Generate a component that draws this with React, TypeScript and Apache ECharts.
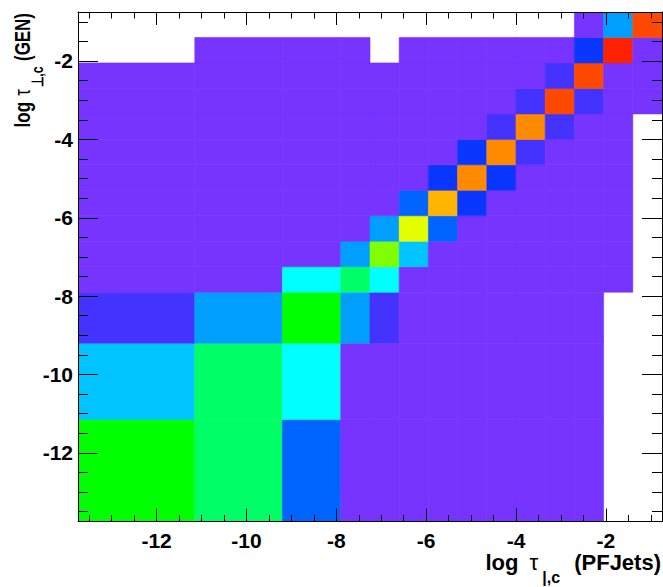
import React, { useEffect, useRef } from "react";
import * as echarts from "echarts";

// Bin edges (same for both axes), log10 tau
const xEdges = [-13.75, -11.15, -9.2, -7.9, -7.25, -6.6, -5.95, -5.3, -4.65, -4.0, -3.35, -2.7, -2.05, -1.4, -0.75];
const yEdges = [-13.75, -11.15, -9.2, -7.9, -7.25, -6.6, -5.95, -5.3, -4.65, -4.0, -3.35, -2.7, -2.05, -1.4, -0.75];

// Colour levels (ROOT rainbow palette, low -> high)
const palette = [
  "#7733ff", "#4433ff", "#0a37ff", "#0064ff", "#009fff", "#00c4ff", "#00ffff",
  "#00ff66", "#00ff00", "#80ff00", "#e6ff00", "#ffb400", "#ff8a00", "#ff4800", "#ff2200",
];

// Cell levels per y bin (bottom -> top), one entry per x bin; -1 = empty
const row0 = [8, 7, 3, 0, 0, 0, 0, 0, 0, 0, 0, 0, -1, -1];
const row1 = [5, 7, 6, 0, 0, 0, 0, 0, 0, 0, 0, 0, -1, -1];
const row2 = [1, 4, 8, 4, 1, 0, 0, 0, 0, 0, 0, 0, -1, -1];
const row3 = [0, 0, 6, 7, 6, 0, 0, 0, 0, 0, 0, 0, 0, -1];
const row4 = [0, 0, 0, 4, 9, 5, 0, 0, 0, 0, 0, 0, 0, -1];
const row5 = [0, 0, 0, 0, 4, 10, 3, 0, 0, 0, 0, 0, 0, -1];
const row6 = [0, 0, 0, 0, 0, 3, 11, 2, 0, 0, 0, 0, 0, -1];
const row7 = [0, 0, 0, 0, 0, 0, 2, 12, 2, 0, 0, 0, 0, -1];
const row8 = [0, 0, 0, 0, 0, 0, 0, 2, 12, 1, 0, 0, 0, -1];
const row9 = [0, 0, 0, 0, 0, 0, 0, 0, 1, 12, 1, 0, 0, -1];
const row10 = [0, 0, 0, 0, 0, 0, 0, 0, 0, 1, 13, 1, 0, 0];
const row11 = [0, 0, 0, 0, 0, 0, 0, 0, 0, 0, 1, 13, 0, 0];
const row12 = [-1, 0, 0, 0, -1, 0, 0, 0, 0, 0, 0, 2, 14, 0];
const row13 = [-1, -1, -1, -1, -1, -1, -1, -1, -1, -1, -1, 0, 4, 13];
const levelRows = [row0, row1, row2, row3, row4, row5, row6, row7, row8, row9, row10, row11, row12, row13];

const xTitle = "{m|log }{t|τ}{s||,c}{m| (PFJets)}";
const yTitle = "{m|log }{t|τ}{s|⊥,c}{m| (GEN)}";

const FONT = '"Liberation Sans", Arial, Helvetica, sans-serif';

export default function App() {
  const ref = useRef<HTMLDivElement>(null);
  useEffect(() => {
    if (!ref.current) return;
    const chart = echarts.init(ref.current, undefined, { renderer: "svg" });

    const data: number[][] = [];
    levelRows.forEach((row, yi) => {
      row.forEach((lv, xi) => {
        if (lv >= 0) data.push([xEdges[xi], xEdges[xi + 1], yEdges[yi], yEdges[yi + 1], lv]);
      });
    });

    const mkAxis = (pos: string, isX: boolean, showLabel: boolean) => ({
      type: "value",
      position: pos,
      min: -13.75,
      max: -0.75,
      minInterval: 2,
      maxInterval: 2,
      z: 10,
      axisLine: { show: true, onZero: false, lineStyle: { color: "#000", width: 1 } },
      axisTick: { show: true, inside: true, length: isX ? 13 : 20, lineStyle: { color: "#000", width: 1 } },
      minorTick: { show: true, splitNumber: 4, length: isX ? 6.5 : 10, lineStyle: { color: "#000", width: 1 } },
      splitLine: { show: false },
      minorSplitLine: { show: false },
      axisLabel: {
        show: showLabel,
        showMinLabel: false,
        showMaxLabel: false,
        color: "#000",
        fontFamily: FONT,
        fontWeight: "bold",
        fontSize: 21,
        margin: isX ? 8 : 5,
        padding: isX ? 0 : [6, 0, 0, 0],
      },
    });

    const richX = {
      m: { fontFamily: FONT, fontWeight: "bold", fontSize: 22, lineHeight: 26, verticalAlign: "top", fill: "#000" },
      t: { fontFamily: FONT, fontWeight: "normal", fontSize: 22, lineHeight: 26, verticalAlign: "top", fill: "#000", padding: [0, 3, 0, 5] },
      s: { fontFamily: FONT, fontWeight: "bold", fontSize: 16, lineHeight: 16, padding: [18, 8, 0, 1], verticalAlign: "top", fill: "#000" },
    };
    const richY = {
      m: { fontFamily: FONT, fontWeight: "bold", fontSize: 22, lineHeight: 26, verticalAlign: "top", fill: "#000" },
      t: { fontFamily: FONT, fontWeight: "normal", fontSize: 22, lineHeight: 26, verticalAlign: "top", fill: "#000", padding: [0, 1, 0, 2] },
      s: { fontFamily: FONT, fontWeight: "bold", fontSize: 16, lineHeight: 16, padding: [18, 1, 0, 1], verticalAlign: "top", fill: "#000" },
    };

    chart.setOption({
      animation: false,
      backgroundColor: "#fff",
      grid: { left: 78, top: 12, width: 584, height: 509.5, containLabel: false, show: false },
      xAxis: [mkAxis("bottom", true, true), mkAxis("top", true, false)],
      yAxis: [mkAxis("left", false, true), mkAxis("right", false, false)],
      series: [
        {
          type: "custom",
          xAxisIndex: 0,
          yAxisIndex: 0,
          clip: true,
          encode: { x: [0, 1], y: [2, 3] },
          data,
          renderItem: (params: any, api: any) => {
            const p0 = api.coord([api.value(0), api.value(3)]);
            const p1 = api.coord([api.value(1), api.value(2)]);
            const c = palette[api.value(4)];
            return {
              type: "rect",
              shape: { x: p0[0], y: p0[1], width: p1[0] - p0[0], height: p1[1] - p0[1] },
              style: { fill: c, stroke: c, lineWidth: 0.6 },
            };
          },
        },
      ],
      graphic: [
        {
          type: "text",
          x: 661,
          y: 551,
          style: { text: xTitle, rich: richX, align: "right", verticalAlign: "top" },
        },
        {
          type: "text",
          x: 11,
          y: 13,
          rotation: Math.PI / 2,
          scaleX: 0.77,
          style: { text: yTitle, rich: richY, align: "right", verticalAlign: "top" },
        },
      ],
    });
    return () => chart.dispose();
  }, []);
  return <div ref={ref} style={{ position: "absolute", left: 0, top: 0, width: 663, height: 587 }} />;
}
